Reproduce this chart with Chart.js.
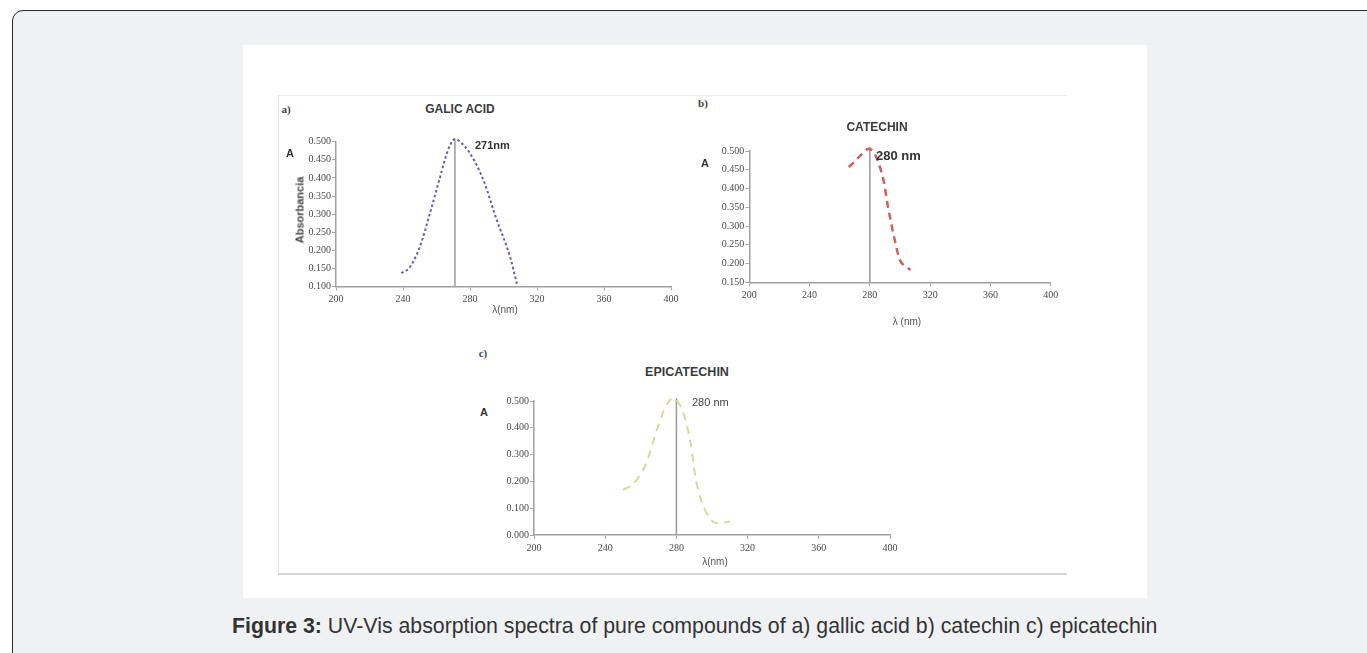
<!DOCTYPE html>
<html>
<head>
<meta charset="utf-8">
<script src="https://cdn.jsdelivr.net/npm/chart.js@4.4.1/dist/chart.umd.min.js"></script>
<style>
  html, body { margin: 0; padding: 0; background: #fff; }
  #page { position: relative; width: 1367px; height: 653px; overflow: hidden; background: #fff; font-family: "Liberation Sans", Arial, sans-serif; }
  #box { position: absolute; left: 12px; top: 10px; width: 1370px; height: 700px; box-sizing: border-box;
         border: 1.5px solid #2b2b2b; border-radius: 11px; background: #f0f1f3; }
  #sheet { position: absolute; left: 243px; top: 45px; width: 904px; height: 553px; background: #fff; }
  #frame { position: absolute; left: 278px; top: 95px; width: 789px; height: 480px; box-sizing: border-box;
           border-top: 1px solid #ececec; border-left: 1px solid #e0e0e0; border-bottom: 2px solid #d6d6d6; }
  canvas { position: absolute; }
  .lbl { position: absolute; white-space: nowrap; line-height: 1; transform: translate(-50%, -50%); color: #333; }
  .left { transform: translate(0, -50%); }
  #caption { position: absolute; left: 232px; top: 616px; font-size: 21.3px; line-height: 21px; color: #333; white-space: nowrap; }
</style>
</head>
<body>
<div id="page">
  <div id="box"></div>
  <div id="sheet"></div>
  <div id="frame"></div>
  <canvas id="chartA"></canvas>
  <canvas id="chartB"></canvas>
  <canvas id="chartC"></canvas>
  <div id="caption"><b>Figure 3:</b> UV-Vis absorption spectra of pure compounds of a) gallic acid b) catechin c) epicatechin</div>
</div>
<script>
// gallic acid (a)
const galicNm  = [239, 244, 250, 256, 262, 265, 268, 271, 275, 280, 288, 296, 304, 308];
const galicAbs = [0.137, 0.153, 0.209, 0.301, 0.400, 0.450, 0.490, 0.507, 0.496, 0.468, 0.394, 0.283, 0.181, 0.107];
// catechin (b)
const catechinNm  = [266, 270, 274, 279, 282, 285, 289, 292, 296, 300, 304, 307];
const catechinAbs = [0.457, 0.472, 0.489, 0.505, 0.500, 0.476, 0.423, 0.352, 0.272, 0.209, 0.192, 0.183];
// epicatechin (c)
const epiNm  = [250, 256, 263, 269, 274, 278, 281, 284, 288, 291, 297, 303, 306, 310];
const epiAbs = [0.168, 0.193, 0.267, 0.392, 0.479, 0.510, 0.495, 0.454, 0.342, 0.205, 0.081, 0.044, 0.045, 0.050];

const peakNm = [271, 280, 280];
const peakTop = [0.507, 0.511, 0.511];
const peakLabels = ["271nm", "280 nm", "280 nm"];
const titles = ["GALIC ACID", "CATECHIN", "EPICATECHIN"];
const panelLetters = ["a)", "b)", "c)"];
const axisTitles = ["\u03bb(nm)", "\u03bb (nm)", "\u03bb(nm)"];
const xTicks = [200, 240, 280, 320, 360, 400];
const yMin = [0.1, 0.15, 0.0];
const yMax = [0.5, 0.5, 0.5];
const yStep = [0.05, 0.05, 0.1];

const page = document.getElementById("page");
function label(text, x, y, css, cls) {
  const d = document.createElement("div");
  d.className = "lbl" + (cls ? " " + cls : "");
  d.textContent = text;
  d.style.left = x + "px";
  d.style.top = y + "px";
  Object.assign(d.style, css || {});
  page.appendChild(d);
  return d;
}

function makeChart(id, box, area, i, xs, ys, color, dash, width) {
  const cv = document.getElementById(id);
  cv.style.left = box.x + "px";
  cv.style.top = box.y + "px";
  cv.width = box.w;
  cv.height = box.h;
  cv.style.width = box.w + "px";
  cv.style.height = box.h + "px";
  const yW = area.l - box.x;
  const xH = box.y + box.h - area.b;
  const tickFont = { family: "'Liberation Serif', 'DejaVu Serif', serif", size: 10 };
  return new Chart(cv, {
    type: "scatter",
    data: {
      datasets: [
        {
          data: xs.map((x, k) => ({ x: x, y: ys[k] })),
          showLine: true,
          borderColor: color,
          borderWidth: width,
          borderDash: dash,
          pointRadius: 0,
          cubicInterpolationMode: "monotone",
        },
        {
          data: [{ x: peakNm[i], y: yMin[i] }, { x: peakNm[i], y: peakTop[i] }],
          showLine: true,
          borderColor: "#9a9a9a",
          borderWidth: 1.5,
          pointRadius: 0,
        },
      ],
    },
    options: {
      responsive: false,
      animation: false,
      clip: false,
      layout: { padding: { left: 0, top: area.t - box.y, right: box.x + box.w - area.r, bottom: 0 } },
      plugins: { legend: { display: false }, tooltip: { enabled: false } },
      scales: {
        x: {
          type: "linear",
          min: 200,
          max: 400,
          afterFit: (s) => { s.height = xH; },
          afterBuildTicks: (s) => { s.ticks = xTicks.map((v) => ({ value: v })); },
          ticks: { font: tickFont, color: "#4a4a4a", padding: 3, maxRotation: 0 },
          grid: { display: true, drawOnChartArea: false, drawTicks: true, tickLength: 4, color: "#a8a8a8" },
          border: { color: "#a0a0a0", width: 1.5 },
        },
        y: {
          min: yMin[i],
          max: yMax[i],
          afterFit: (s) => { s.width = yW; },
          ticks: { stepSize: yStep[i], autoSkip: false, font: tickFont, color: "#4a4a4a", padding: 1,
                   callback: (v) => v.toFixed(3) },
          grid: { display: true, drawOnChartArea: false, drawTicks: true, tickLength: 4, color: "#a8a8a8" },
          border: { color: "#a0a0a0", width: 1.5 },
        },
      },
    },
  });
}

makeChart("chartA", { x: 290, y: 120, w: 400, h: 200 }, { l: 336, r: 671, t: 141.7, b: 286.5 },
          0, galicNm, galicAbs, "#5d5fa8", [2.5, 2.5], 2);
makeChart("chartB", { x: 710, y: 130, w: 360, h: 180 }, { l: 749.3, r: 1050.7, t: 151, b: 282.3 },
          1, catechinNm, catechinAbs, "#cf5f60", [7, 5], 2.5);
makeChart("chartC", { x: 495, y: 380, w: 415, h: 180 }, { l: 534, r: 890, t: 401, b: 535 },
          2, epiNm, epiAbs, "#d6d99c", [8, 6], 2);

const serifSmall = { fontFamily: "'Liberation Serif', serif", fontSize: "11px", fontWeight: "bold", color: "#444" };
// panel letters
label(panelLetters[0], 286, 109, serifSmall);
label(panelLetters[1], 703, 103, serifSmall);
label(panelLetters[2], 483, 353, serifSmall);
// titles
label(titles[0], 460, 109, { fontSize: "12px", fontWeight: "bold", color: "#3a3a3a" });
label(titles[1], 877, 127, { fontSize: "12px", fontWeight: "bold", color: "#3a3a3a" });
label(titles[2], 687, 372, { fontSize: "12.5px", fontWeight: "bold", color: "#3a3a3a" });
// "A" axis marks
label("A", 290, 153, { fontSize: "11px", fontWeight: "bold" });
label("A", 705, 163, { fontSize: "11px", fontWeight: "bold" });
label("A", 484, 412, { fontSize: "11px", fontWeight: "bold" });
// rotated y title in a)
label("Absorbancia", 300, 210, { fontSize: "11px", fontWeight: "bold", color: "#444", transform: "translate(-50%, -50%) rotate(-90deg)" });
// peak labels
label(peakLabels[0], 475, 145, { fontSize: "11px", fontWeight: "bold" }, "left");
label(peakLabels[1], 876, 155, { fontSize: "13px", fontWeight: "bold" }, "left");
label(peakLabels[2], 692, 402, { fontSize: "11px", color: "#444" }, "left");
// x axis titles
label(axisTitles[0], 505, 310, { fontSize: "10px", color: "#555" });
label(axisTitles[1], 907, 322, { fontSize: "10px", color: "#555" });
label(axisTitles[2], 715, 562, { fontSize: "10px", color: "#555" });
</script>
</body>
</html>
